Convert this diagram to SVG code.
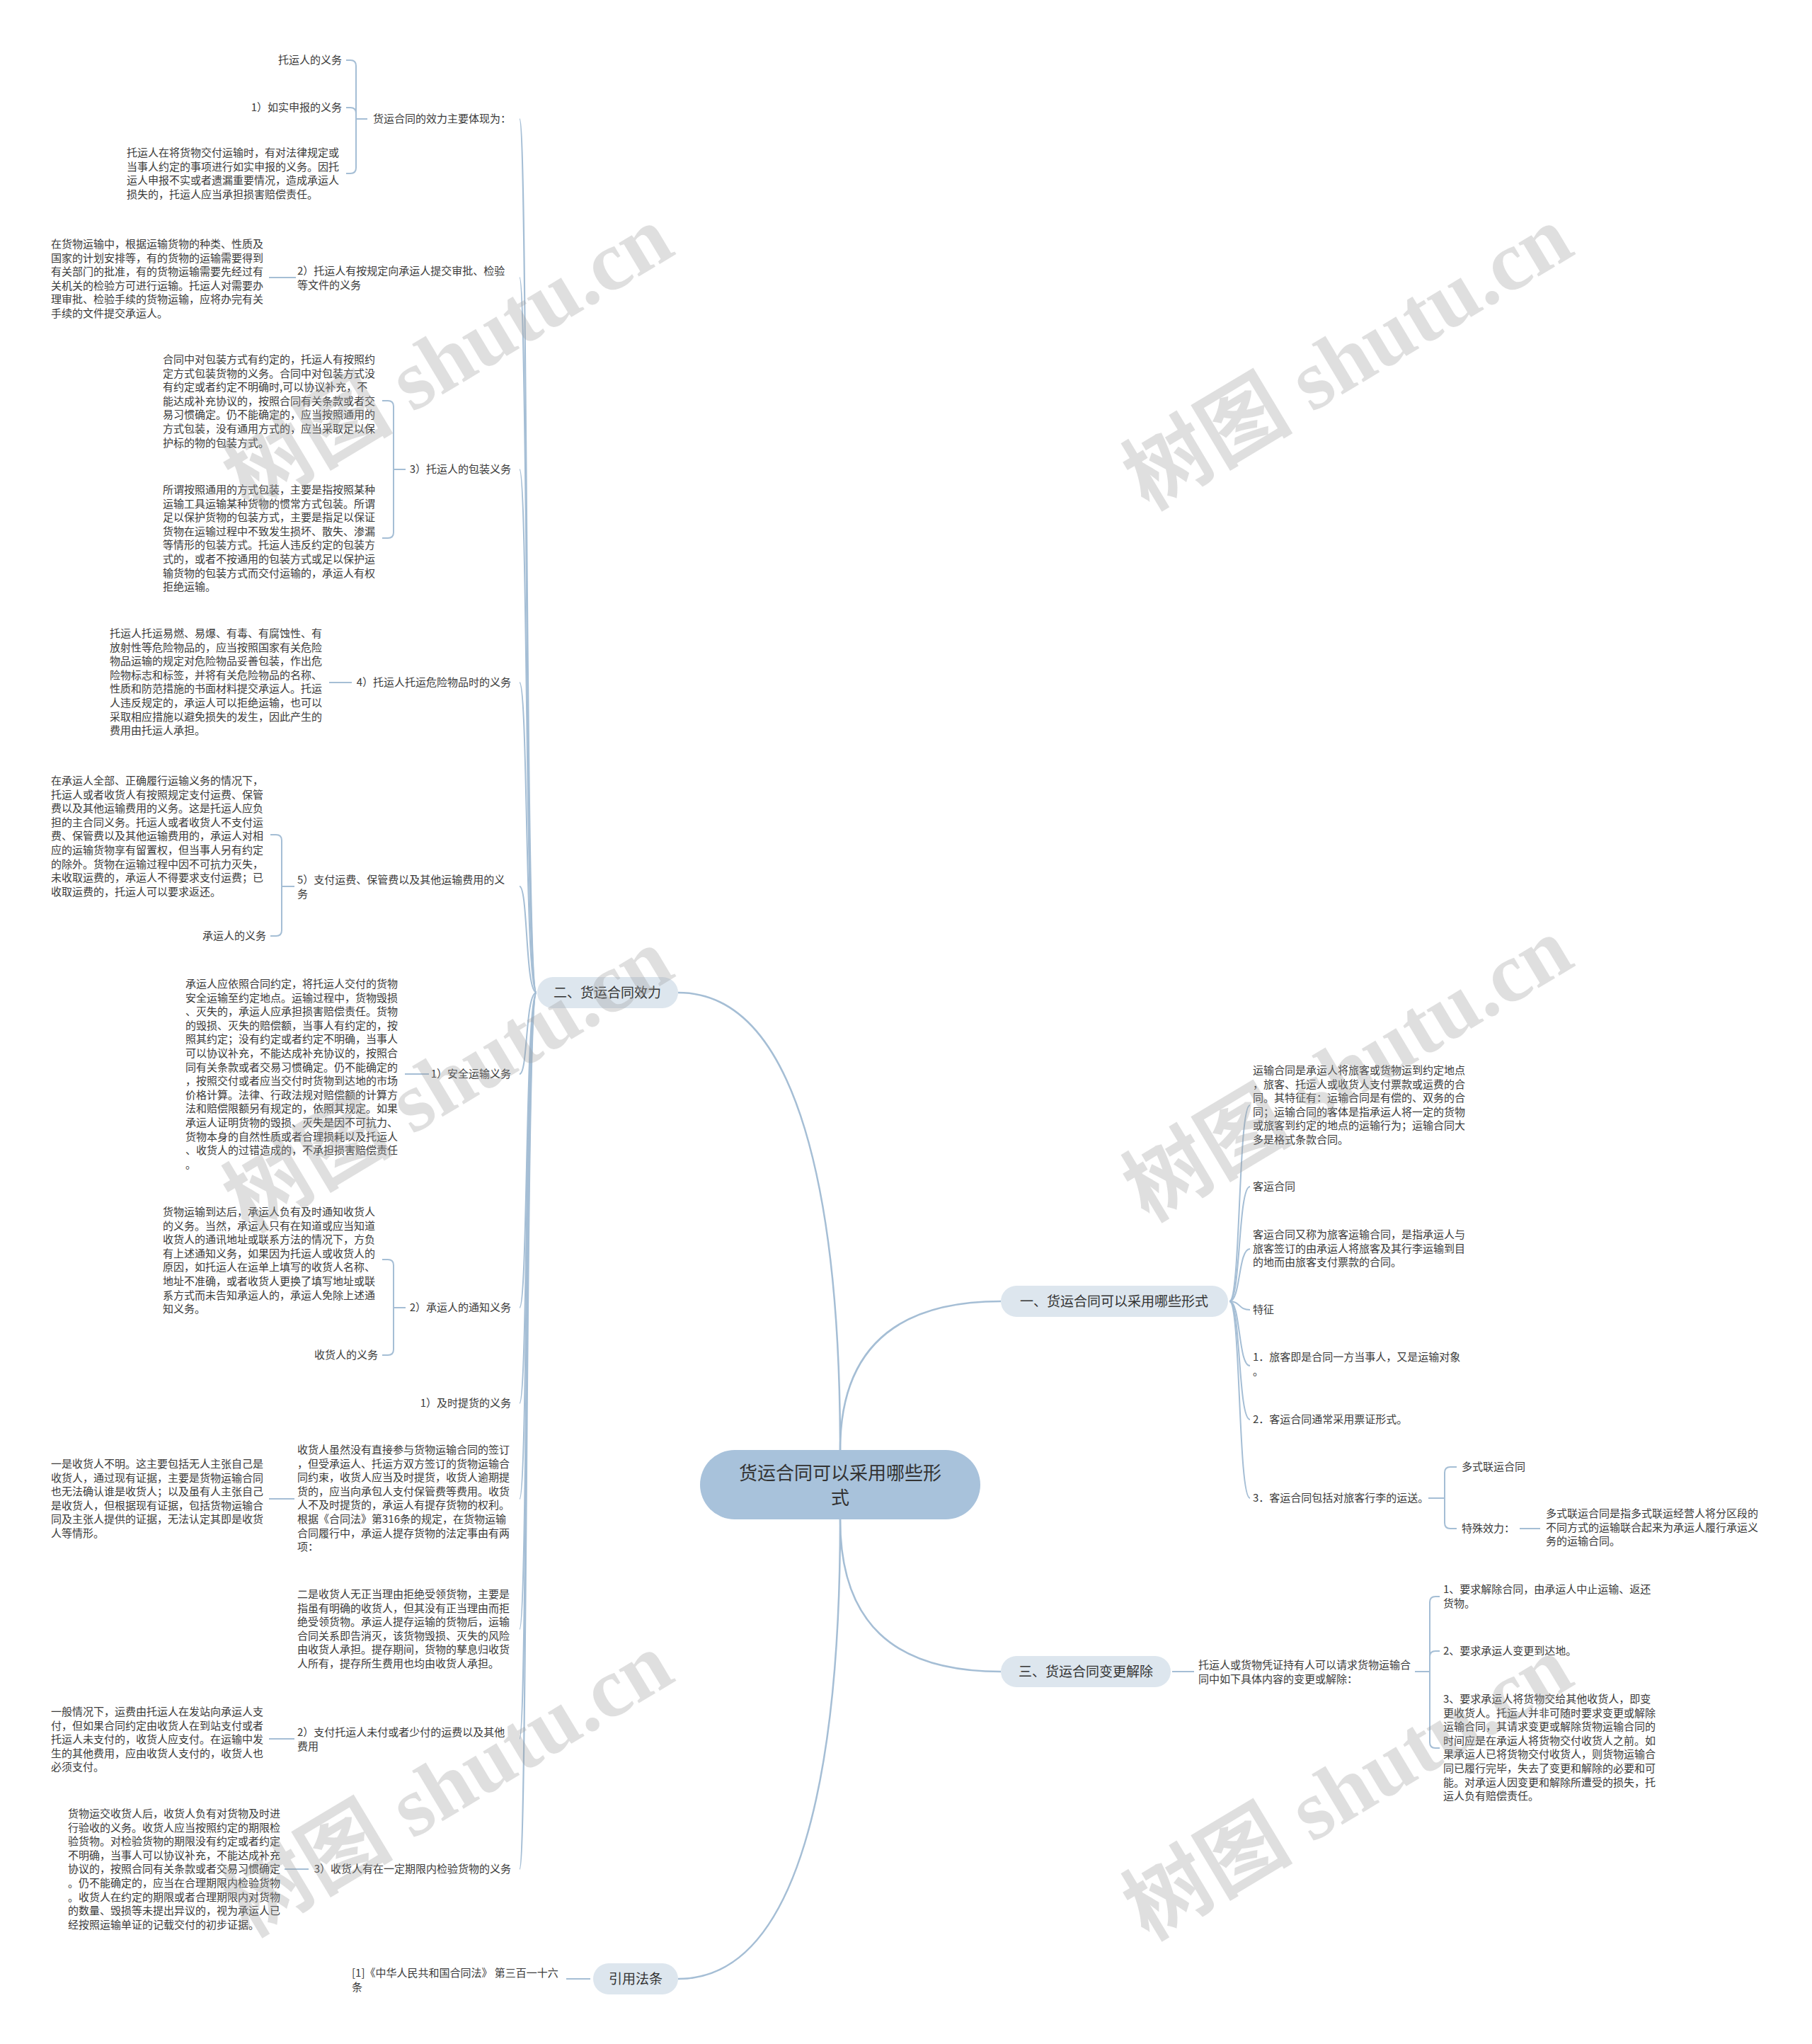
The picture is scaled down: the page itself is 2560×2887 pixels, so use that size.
<svg xmlns="http://www.w3.org/2000/svg" width="2560" height="2887" viewBox="0 0 2560 2887">
<style>
.t{font-family:'Noto Sans CJK SC','Noto Sans',sans-serif;font-size:15px;fill:#3a3a3a}
.e{text-anchor:end}
.b{font-family:'Noto Sans CJK SC','Noto Sans',sans-serif;font-size:19px;fill:#333;text-anchor:middle}
.c{font-family:'Noto Sans CJK SC','Noto Sans',sans-serif;font-size:26px;fill:#333;text-anchor:middle}
.ln{fill:none;stroke:#a5bed5;stroke-width:2}
.mn{fill:none;stroke:#a5bed5;stroke-width:2.5}
.nb{fill:#dde6ee}
.nc{fill:#a8c2db}
.wm{font-family:'Liberation Serif','Noto Sans CJK SC',serif;font-size:120px;font-weight:bold;fill:#999;opacity:.3;text-anchor:middle}
</style>
<rect width="2560" height="2887" fill="#ffffff"/>
<g id="connectors">
<path class="mn" d="M958,1402 C1130,1402 1187,1700 1187,2048"/>
<path class="mn" d="M958,2795 C1130,2795 1187,2500 1187,2146"/>
<path class="mn" d="M1187,2048 C1187,1910 1260,1838 1414,1838"/>
<path class="mn" d="M1187,2146 C1187,2290 1260,2361 1414,2361"/>
<path class="ln" d="M758,1402 C742,1402 746,168 734,168"/>
<path class="ln" d="M758,1402 C742,1402 746,392 734,392"/>
<path class="ln" d="M758,1402 C742,1402 746,663 734,663"/>
<path class="ln" d="M758,1402 C742,1402 746,964 734,964"/>
<path class="ln" d="M758,1402 C742,1402 746,1252 734,1252"/>
<path class="ln" d="M758,1402 C742,1402 746,1517 734,1517"/>
<path class="ln" d="M758,1402 C742,1402 746,1847 734,1847"/>
<path class="ln" d="M758,1402 C742,1402 746,1982 734,1982"/>
<path class="ln" d="M758,1402 C742,1402 746,2117 734,2117"/>
<path class="ln" d="M758,1402 C742,1402 746,2301 734,2301"/>
<path class="ln" d="M758,1402 C742,1402 746,2456 734,2456"/>
<path class="ln" d="M758,1402 C742,1402 746,2640 734,2640"/>
<path class="ln" d="M519,168 H503 V93 Q503,85 495,85 H489"/>
<path class="ln" d="M519,168 H503 V160 Q503,152 495,152 H489"/>
<path class="ln" d="M519,168 H503 V237 Q503,245 495,245 H489"/>
<path class="ln" d="M418,392 H380"/>
<path class="ln" d="M573,663 H556 V574 Q556,566 548,566 H540"/>
<path class="ln" d="M573,663 H556 V752 Q556,760 548,760 H540"/>
<path class="ln" d="M497,964 H465"/>
<path class="ln" d="M416,1252 H398 V1187 Q398,1179 390,1179 H382"/>
<path class="ln" d="M416,1252 H398 V1314 Q398,1322 390,1322 H382"/>
<path class="ln" d="M606,1517 H572"/>
<path class="ln" d="M573,1847 H556 V1787 Q556,1779 548,1779 H540"/>
<path class="ln" d="M573,1847 H556 V1906 Q556,1914 548,1914 H540"/>
<path class="ln" d="M416,2117 H380"/>
<path class="ln" d="M416,2456 H380"/>
<path class="ln" d="M436,2640 H402"/>
<path class="ln" d="M834,2795 H800"/>
<path class="ln" d="M1737,1838 C1753,1838 1749,1561 1766,1561"/>
<path class="ln" d="M1737,1838 C1753,1838 1749,1676 1766,1676"/>
<path class="ln" d="M1737,1838 C1753,1838 1749,1764 1766,1764"/>
<path class="ln" d="M1737,1838 C1753,1838 1749,1850 1766,1850"/>
<path class="ln" d="M1737,1838 C1753,1838 1749,1929 1766,1929"/>
<path class="ln" d="M1737,1838 C1753,1838 1749,2005 1766,2005"/>
<path class="ln" d="M1737,1838 C1753,1838 1749,2116 1766,2116"/>
<path class="ln" d="M2018,2116 H2041 V2080 Q2041,2072 2049,2072 H2058"/>
<path class="ln" d="M2018,2116 H2041 V2151 Q2041,2159 2049,2159 H2058"/>
<path class="ln" d="M2147,2159 H2176"/>
<path class="ln" d="M1656,2361 H1687"/>
<path class="ln" d="M1999,2361 H2020 V2263 Q2020,2255 2028,2255 H2034"/>
<path class="ln" d="M1999,2361 H2020 V2340 Q2020,2332 2028,2332 H2034"/>
<path class="ln" d="M1999,2361 H2020 V2461 Q2020,2469 2028,2469 H2034"/>
</g>
<g id="center"><rect class="nc" x="989" y="2048" width="396" height="98" rx="49"/><text class="c" x="1187" y="2090">货运合同可以采用哪些形</text><text class="c" x="1187" y="2125">式</text></g>
<g id="b2"><rect class="nb" x="759" y="1380" width="199" height="44" rx="22"/><text class="b" x="858" y="1409">二、货运合同效力</text></g>
<g id="b1"><rect class="nb" x="1414" y="1816" width="321" height="44" rx="22"/><text class="b" x="1574" y="1845">一、货运合同可以采用哪些形式</text></g>
<g id="b3"><rect class="nb" x="1414" y="2339" width="240" height="44" rx="22"/><text class="b" x="1534" y="2368">三、货运合同变更解除</text></g>
<g id="b4"><rect class="nb" x="838" y="2773" width="120" height="44" rx="22"/><text class="b" x="898" y="2802">引用法条</text></g>
<g id="n-a"><text class="t e" x="722" y="173">货运合同的效力主要体现为：</text></g>
<g id="n-a1"><text class="t e" x="483" y="90">托运人的义务</text></g>
<g id="n-a2"><text class="t e" x="483" y="157">1）如实申报的义务</text></g>
<g id="n-a3"><text class="t" x="179" y="221">托运人在将货物交付运输时，有对法律规定或<tspan x="179" dy="19.6">当事人约定的事项进行如实申报的义务。因托</tspan><tspan x="179" dy="19.6">运人申报不实或者遗漏重要情况，造成承运人</tspan><tspan x="179" dy="19.6">损失的，托运人应当承担损害赔偿责任。</tspan></text></g>
<g id="n-b"><text class="t" x="420" y="388">2）托运人有按规定向承运人提交审批、检验<tspan x="420" dy="19.6">等文件的义务</tspan></text></g>
<g id="n-b1"><text class="t" x="72" y="350">在货物运输中，根据运输货物的种类、性质及<tspan x="72" dy="19.6">国家的计划安排等，有的货物的运输需要得到</tspan><tspan x="72" dy="19.6">有关部门的批准，有的货物运输需要先经过有</tspan><tspan x="72" dy="19.6">关机关的检验方可进行运输。托运人对需要办</tspan><tspan x="72" dy="19.6">理审批、检验手续的货物运输，应将办完有关</tspan><tspan x="72" dy="19.6">手续的文件提交承运人。</tspan></text></g>
<g id="n-c"><text class="t e" x="722" y="668">3）托运人的包装义务</text></g>
<g id="n-c1"><text class="t" x="230" y="513">合同中对包装方式有约定的，托运人有按照约<tspan x="230" dy="19.6">定方式包装货物的义务。合同中对包装方式没</tspan><tspan x="230" dy="19.6">有约定或者约定不明确时,可以协议补充，不</tspan><tspan x="230" dy="19.6">能达成补充协议的，按照合同有关条款或者交</tspan><tspan x="230" dy="19.6">易习惯确定。仍不能确定的，应当按照通用的</tspan><tspan x="230" dy="19.6">方式包装，没有通用方式的，应当采取足以保</tspan><tspan x="230" dy="19.6">护标的物的包装方式。</tspan></text></g>
<g id="n-c2"><text class="t" x="230" y="697">所谓按照通用的方式包装，主要是指按照某种<tspan x="230" dy="19.6">运输工具运输某种货物的惯常方式包装。所谓</tspan><tspan x="230" dy="19.6">足以保护货物的包装方式，主要是指足以保证</tspan><tspan x="230" dy="19.6">货物在运输过程中不致发生损坏、散失、渗漏</tspan><tspan x="230" dy="19.6">等情形的包装方式。托运人违反约定的包装方</tspan><tspan x="230" dy="19.6">式的，或者不按通用的包装方式或足以保护运</tspan><tspan x="230" dy="19.6">输货物的包装方式而交付运输的，承运人有权</tspan><tspan x="230" dy="19.6">拒绝运输。</tspan></text></g>
<g id="n-d"><text class="t e" x="722" y="969">4）托运人托运危险物品时的义务</text></g>
<g id="n-d1"><text class="t" x="155" y="900">托运人托运易燃、易爆、有毒、有腐蚀性、有<tspan x="155" dy="19.6">放射性等危险物品的，应当按照国家有关危险</tspan><tspan x="155" dy="19.6">物品运输的规定对危险物品妥善包装，作出危</tspan><tspan x="155" dy="19.6">险物标志和标签，并将有关危险物品的名称、</tspan><tspan x="155" dy="19.6">性质和防范措施的书面材料提交承运人。托运</tspan><tspan x="155" dy="19.6">人违反规定的，承运人可以拒绝运输，也可以</tspan><tspan x="155" dy="19.6">采取相应措施以避免损失的发生，因此产生的</tspan><tspan x="155" dy="19.6">费用由托运人承担。</tspan></text></g>
<g id="n-e"><text class="t" x="420" y="1248">5）支付运费、保管费以及其他运输费用的义<tspan x="420" dy="19.6">务</tspan></text></g>
<g id="n-e1"><text class="t" x="72" y="1108">在承运人全部、正确履行运输义务的情况下，<tspan x="72" dy="19.6">托运人或者收货人有按照规定支付运费、保管</tspan><tspan x="72" dy="19.6">费以及其他运输费用的义务。这是托运人应负</tspan><tspan x="72" dy="19.6">担的主合同义务。托运人或者收货人不支付运</tspan><tspan x="72" dy="19.6">费、保管费以及其他运输费用的，承运人对相</tspan><tspan x="72" dy="19.6">应的运输货物享有留置权，但当事人另有约定</tspan><tspan x="72" dy="19.6">的除外。货物在运输过程中因不可抗力灭失，</tspan><tspan x="72" dy="19.6">未收取运费的，承运人不得要求支付运费；已</tspan><tspan x="72" dy="19.6">收取运费的，托运人可以要求返还。</tspan></text></g>
<g id="n-e2"><text class="t e" x="376" y="1327">承运人的义务</text></g>
<g id="n-f"><text class="t e" x="722" y="1522">1）安全运输义务</text></g>
<g id="n-f1"><text class="t" x="262" y="1395">承运人应依照合同约定，将托运人交付的货物<tspan x="262" dy="19.6">安全运输至约定地点。运输过程中，货物毁损</tspan><tspan x="262" dy="19.6">、灭失的，承运人应承担损害赔偿责任。货物</tspan><tspan x="262" dy="19.6">的毁损、灭失的赔偿额，当事人有约定的，按</tspan><tspan x="262" dy="19.6">照其约定；没有约定或者约定不明确，当事人</tspan><tspan x="262" dy="19.6">可以协议补充，不能达成补充协议的，按照合</tspan><tspan x="262" dy="19.6">同有关条款或者交易习惯确定。仍不能确定的</tspan><tspan x="262" dy="19.6">，按照交付或者应当交付时货物到达地的市场</tspan><tspan x="262" dy="19.6">价格计算。法律、行政法规对赔偿额的计算方</tspan><tspan x="262" dy="19.6">法和赔偿限额另有规定的，依照其规定。如果</tspan><tspan x="262" dy="19.6">承运人证明货物的毁损、灭失是因不可抗力、</tspan><tspan x="262" dy="19.6">货物本身的自然性质或者合理损耗以及托运人</tspan><tspan x="262" dy="19.6">、收货人的过错造成的，不承担损害赔偿责任</tspan><tspan x="262" dy="19.6">。</tspan></text></g>
<g id="n-g"><text class="t e" x="722" y="1852">2）承运人的通知义务</text></g>
<g id="n-g1"><text class="t" x="230" y="1717">货物运输到达后，承运人负有及时通知收货人<tspan x="230" dy="19.6">的义务。当然，承运人只有在知道或应当知道</tspan><tspan x="230" dy="19.6">收货人的通讯地址或联系方法的情况下，方负</tspan><tspan x="230" dy="19.6">有上述通知义务，如果因为托运人或收货人的</tspan><tspan x="230" dy="19.6">原因，如托运人在运单上填写的收货人名称、</tspan><tspan x="230" dy="19.6">地址不准确，或者收货人更换了填写地址或联</tspan><tspan x="230" dy="19.6">系方式而未告知承运人的，承运人免除上述通</tspan><tspan x="230" dy="19.6">知义务。</tspan></text></g>
<g id="n-g2"><text class="t e" x="534" y="1919">收货人的义务</text></g>
<g id="n-h"><text class="t e" x="722" y="1987">1）及时提货的义务</text></g>
<g id="n-i"><text class="t" x="420" y="2053">收货人虽然没有直接参与货物运输合同的签订<tspan x="420" dy="19.6">，但受承运人、托运方双方签订的货物运输合</tspan><tspan x="420" dy="19.6">同约束，收货人应当及时提货，收货人逾期提</tspan><tspan x="420" dy="19.6">货的，应当向承包人支付保管费等费用。收货</tspan><tspan x="420" dy="19.6">人不及时提货的，承运人有提存货物的权利。</tspan><tspan x="420" dy="19.6">根据《合同法》第316条的规定，在货物运输</tspan><tspan x="420" dy="19.6">合同履行中，承运人提存货物的法定事由有两</tspan><tspan x="420" dy="19.6">项：</tspan></text></g>
<g id="n-i1"><text class="t" x="72" y="2073">一是收货人不明。这主要包括无人主张自己是<tspan x="72" dy="19.6">收货人，通过现有证据，主要是货物运输合同</tspan><tspan x="72" dy="19.6">也无法确认谁是收货人；以及虽有人主张自己</tspan><tspan x="72" dy="19.6">是收货人，但根据现有证据，包括货物运输合</tspan><tspan x="72" dy="19.6">同及主张人提供的证据，无法认定其即是收货</tspan><tspan x="72" dy="19.6">人等情形。</tspan></text></g>
<g id="n-j"><text class="t" x="420" y="2257">二是收货人无正当理由拒绝受领货物，主要是<tspan x="420" dy="19.6">指虽有明确的收货人，但其没有正当理由而拒</tspan><tspan x="420" dy="19.6">绝受领货物。承运人提存运输的货物后，运输</tspan><tspan x="420" dy="19.6">合同关系即告消灭，该货物毁损、灭失的风险</tspan><tspan x="420" dy="19.6">由收货人承担。提存期间，货物的孳息归收货</tspan><tspan x="420" dy="19.6">人所有，提存所生费用也均由收货人承担。</tspan></text></g>
<g id="n-k"><text class="t" x="420" y="2452">2）支付托运人未付或者少付的运费以及其他<tspan x="420" dy="19.6">费用</tspan></text></g>
<g id="n-k1"><text class="t" x="72" y="2423">一般情况下，运费由托运人在发站向承运人支<tspan x="72" dy="19.6">付，但如果合同约定由收货人在到站支付或者</tspan><tspan x="72" dy="19.6">托运人未支付的，收货人应支付。在运输中发</tspan><tspan x="72" dy="19.6">生的其他费用，应由收货人支付的，收货人也</tspan><tspan x="72" dy="19.6">必须支付。</tspan></text></g>
<g id="n-l"><text class="t e" x="722" y="2645">3）收货人有在一定期限内检验货物的义务</text></g>
<g id="n-l1"><text class="t" x="96" y="2567">货物运交收货人后，收货人负有对货物及时进<tspan x="96" dy="19.6">行验收的义务。收货人应当按照约定的期限检</tspan><tspan x="96" dy="19.6">验货物。对检验货物的期限没有约定或者约定</tspan><tspan x="96" dy="19.6">不明确，当事人可以协议补充，不能达成补充</tspan><tspan x="96" dy="19.6">协议的，按照合同有关条款或者交易习惯确定</tspan><tspan x="96" dy="19.6">。仍不能确定的，应当在合理期限内检验货物</tspan><tspan x="96" dy="19.6">。收货人在约定的期限或者合理期限内对货物</tspan><tspan x="96" dy="19.6">的数量、毁损等未提出异议的，视为承运人已</tspan><tspan x="96" dy="19.6">经按照运输单证的记载交付的初步证据。</tspan></text></g>
<g id="n-law"><text class="t" x="497" y="2792">[1]《中华人民共和国合同法》 第三百一十六<tspan x="497" dy="19.6">条</tspan></text></g>
<g id="n-r1"><text class="t" x="1770" y="1517">运输合同是承运人将旅客或货物运到约定地点<tspan x="1770" dy="19.6">，旅客、托运人或收货人支付票款或运费的合</tspan><tspan x="1770" dy="19.6">同。其特征有：运输合同是有偿的、双务的合</tspan><tspan x="1770" dy="19.6">同；运输合同的客体是指承运人将一定的货物</tspan><tspan x="1770" dy="19.6">或旅客到约定的地点的运输行为；运输合同大</tspan><tspan x="1770" dy="19.6">多是格式条款合同。</tspan></text></g>
<g id="n-r2"><text class="t" x="1770" y="1681">客运合同</text></g>
<g id="n-r3"><text class="t" x="1770" y="1749">客运合同又称为旅客运输合同，是指承运人与<tspan x="1770" dy="19.6">旅客签订的由承运人将旅客及其行李运输到目</tspan><tspan x="1770" dy="19.6">的地而由旅客支付票款的合同。</tspan></text></g>
<g id="n-r4"><text class="t" x="1770" y="1855">特征</text></g>
<g id="n-r5"><text class="t" x="1770" y="1922">1．旅客即是合同一方当事人，又是运输对象<tspan x="1770" dy="19.6">。</tspan></text></g>
<g id="n-r6"><text class="t" x="1770" y="2010">2．客运合同通常采用票证形式。</text></g>
<g id="n-r7"><text class="t" x="1770" y="2121">3．客运合同包括对旅客行李的运送。</text></g>
<g id="n-r71"><text class="t" x="2065" y="2077">多式联运合同</text></g>
<g id="n-r72"><text class="t" x="2065" y="2164">特殊效力：</text></g>
<g id="n-r73"><text class="t" x="2184" y="2143">多式联运合同是指多式联运经营人将分区段的<tspan x="2184" dy="19.6">不同方式的运输联合起来为承运人履行承运义</tspan><tspan x="2184" dy="19.6">务的运输合同。</tspan></text></g>
<g id="n-s"><text class="t" x="1693" y="2357">托运人或货物凭证持有人可以请求货物运输合<tspan x="1693" dy="19.6">同中如下具体内容的变更或解除：</tspan></text></g>
<g id="n-s1"><text class="t" x="2039" y="2250">1、要求解除合同，由承运人中止运输、返还<tspan x="2039" dy="19.6">货物。</tspan></text></g>
<g id="n-s2"><text class="t" x="2039" y="2337">2、要求承运人变更到达地。</text></g>
<g id="n-s3"><text class="t" x="2039" y="2405">3、要求承运人将货物交给其他收货人，即变<tspan x="2039" dy="19.6">更收货人。托运人并非可随时要求变更或解除</tspan><tspan x="2039" dy="19.6">运输合同，其请求变更或解除货物运输合同的</tspan><tspan x="2039" dy="19.6">时间应是在承运人将货物交付收货人之前。如</tspan><tspan x="2039" dy="19.6">果承运人已将货物交付收货人，则货物运输合</tspan><tspan x="2039" dy="19.6">同已履行完毕，失去了变更和解除的必要和可</tspan><tspan x="2039" dy="19.6">能。对承运人因变更和解除所遭受的损失，托</tspan><tspan x="2039" dy="19.6">运人负有赔偿责任。</tspan></text></g>
<g id="watermarks">
<text class="wm" transform="translate(654,540) rotate(-31)">树图 shutu.cn</text>
<text class="wm" transform="translate(1925,540) rotate(-31)">树图 shutu.cn</text>
<text class="wm" transform="translate(654,1560) rotate(-31)">树图 shutu.cn</text>
<text class="wm" transform="translate(1925,1545) rotate(-31)">树图 shutu.cn</text>
<text class="wm" transform="translate(654,2555) rotate(-31)">树图 shutu.cn</text>
<text class="wm" transform="translate(1925,2560) rotate(-31)">树图 shutu.cn</text>
</g>
</svg>
